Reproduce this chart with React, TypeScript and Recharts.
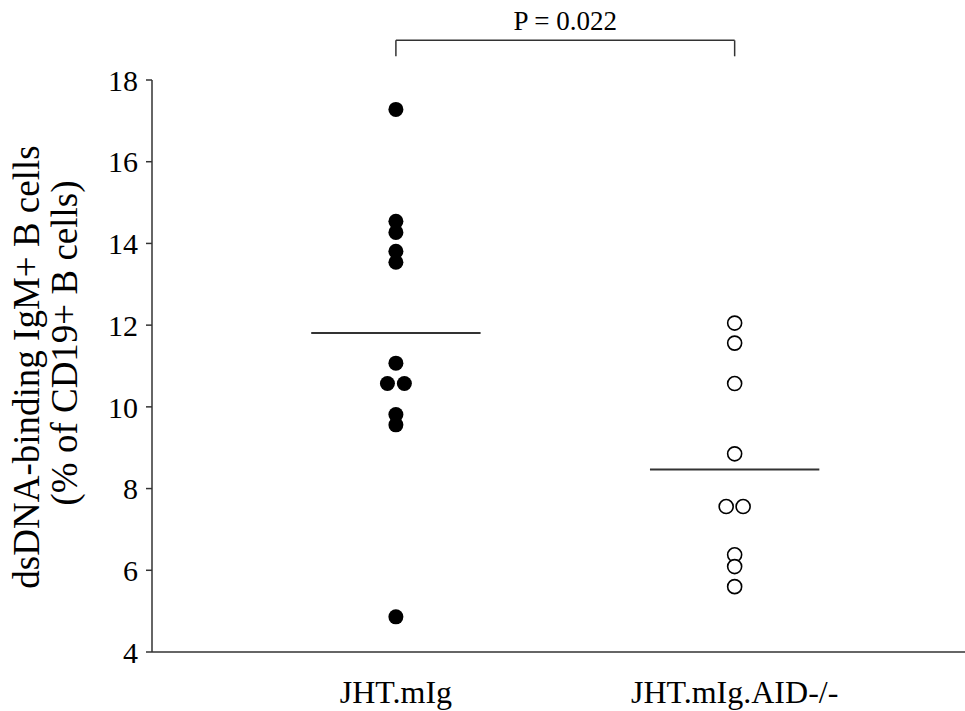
import React from 'react';
import { ScatterChart, Scatter, XAxis, YAxis, ReferenceLine } from 'recharts';

const groups = ['JHT.mIg', 'JHT.mIg.AID-/-'];
const jhtValues = [17.28, 14.54, 14.27, 13.81, 13.54, 11.07, 10.57, 10.57, 9.81, 9.56, 4.86];
const aidValues = [12.05, 11.56, 10.57, 8.85, 7.56, 7.56, 6.38, 6.09, 5.6];
const yTicks = [4, 6, 8, 10, 12, 14, 16, 18];
const pLabel = 'P = 0.022';
const yLabelLines = ['dsDNA-binding IgM+ B cells', '(% of CD19+ B cells)'];

const FONT = '"Liberation Serif", "Times New Roman", serif';

// spread exact duplicates side by side, like the original dot plot
const toPoints = (values: number[], groupPos: number) => {
  const seen: Record<string, number> = {};
  return values.map((v) => {
    const n = values.filter((w) => w === v).length;
    const k = seen[v] ?? 0;
    seen[v] = k + 1;
    const off = n > 1 ? (k - (n - 1) / 2) * 0.05 : 0;
    return { x: groupPos + off, y: v };
  });
};

const mean = (a: number[]) => a.reduce((s, v) => s + v, 0) / a.length;

const jhtData = toPoints(jhtValues, 1);
const aidData = toPoints(aidValues, 2);

const FilledDot = (p: any) => <circle cx={p.cx} cy={p.cy} r={7.5} fill="#000" />;
const OpenDot = (p: any) => <circle cx={p.cx} cy={p.cy} r={7} fill="#fff" stroke="#000" strokeWidth={1.6} />;

const YLabel = () => (
  <g>
    <text
      transform="translate(39, 367) rotate(-90)"
      textAnchor="middle"
      fontFamily={FONT}
      fontSize={37}
      fill="#000"
    >
      {yLabelLines[0]}
    </text>
    <text
      transform="translate(77, 343) rotate(-90)"
      textAnchor="middle"
      fontFamily={FONT}
      fontSize={37}
      fill="#000"
    >
      {yLabelLines[1]}
    </text>
  </g>
);

export default function App() {
  const half = 0.25;
  return (
    <div style={{ position: 'absolute', left: 0, top: 0, background: '#fff' }}>
      <ScatterChart width={965} height={711} margin={{ top: 80, right: 0, bottom: 29, left: 0 }}>
        <XAxis
          type="number"
          dataKey="x"
          domain={[0.28, 2.68]}
          ticks={[1, 2]}
          tickFormatter={(v) => groups[Math.round(v) - 1]}
          tickLine={false}
          tickMargin={22}
          height={30}
          axisLine={{ stroke: '#333', strokeWidth: 1.5 }}
          tick={{ fontFamily: FONT, fontSize: 32, fill: '#000' }}
          allowDataOverflow
        />
        <YAxis
          type="number"
          dataKey="y"
          domain={[4, 18]}
          ticks={yTicks}
          width={152}
          tickSize={6}
          tickMargin={8}
          axisLine={{ stroke: '#333', strokeWidth: 1.5 }}
          tickLine={{ stroke: '#333', strokeWidth: 1.5 }}
          tick={{ fontFamily: FONT, fontSize: 30, fill: '#000' }}
          label={{ content: <YLabel /> }}
          allowDataOverflow
        />
        <Scatter data={jhtData} shape={FilledDot} isAnimationActive={false} />
        <Scatter data={aidData} shape={OpenDot} isAnimationActive={false} />
        <ReferenceLine
          segment={[{ x: 1 - half, y: mean(jhtValues) }, { x: 1 + half, y: mean(jhtValues) }]}
          stroke="#333"
          strokeWidth={2}
        />
        <ReferenceLine
          segment={[{ x: 2 - half, y: mean(aidValues) }, { x: 2 + half, y: mean(aidValues) }]}
          stroke="#333"
          strokeWidth={2}
        />
        <ReferenceLine
          segment={[{ x: 1, y: 18.97 }, { x: 2, y: 18.97 }]}
          stroke="#333"
          strokeWidth={1.5}
          ifOverflow="visible"
          label={{ value: pLabel, position: 'top', offset: 10, fontFamily: FONT, fontSize: 27, fill: '#000' }}
        />
        <ReferenceLine
          segment={[{ x: 1, y: 18.97 }, { x: 1, y: 18.58 }]}
          stroke="#333"
          strokeWidth={1.5}
          ifOverflow="visible"
        />
        <ReferenceLine
          segment={[{ x: 2, y: 18.97 }, { x: 2, y: 18.58 }]}
          stroke="#333"
          strokeWidth={1.5}
          ifOverflow="visible"
        />
      </ScatterChart>
    </div>
  );
}
